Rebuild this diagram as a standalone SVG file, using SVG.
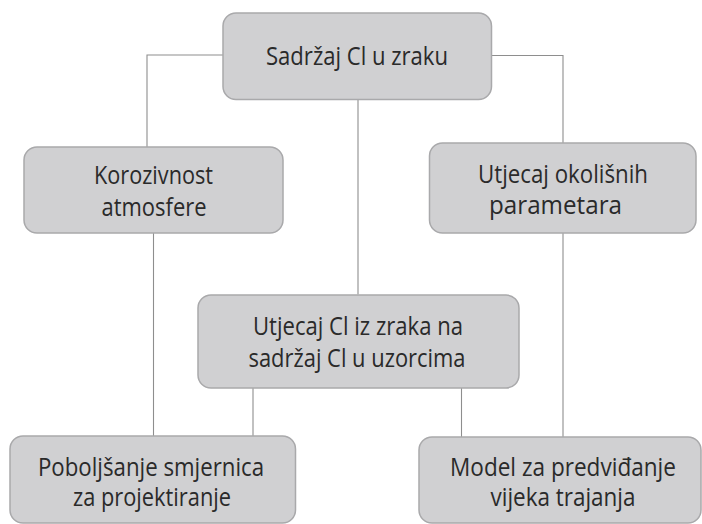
<svg xmlns="http://www.w3.org/2000/svg" width="702" height="524" viewBox="0 0 702 524">
<style>
.box{fill:#d0d0d2;stroke:#a9a9ab;stroke-width:1.5}
.t{font-family:"Open Sans","Liberation Sans",sans-serif;font-size:25px;fill:#2a2a2a;text-anchor:middle}
.c{fill:none;stroke:#8e8e8e;stroke-width:1.1}
</style>
<rect width="702" height="524" fill="#ffffff"/>
<g id="connectors">
<polyline class="c" points="223,55 147,55 147,147"/>
<polyline class="c" points="491.5,55.5 563,55.5 563,143"/>
<line class="c" x1="358" y1="99" x2="358" y2="294.5"/>
<line class="c" x1="153.5" y1="233" x2="153.5" y2="436"/>
<line class="c" x1="253" y1="388" x2="253" y2="436"/>
<line class="c" x1="461.5" y1="388" x2="461.5" y2="437"/>
<line class="c" x1="563" y1="233" x2="563" y2="437"/>
</g>
<g id="n1">
<rect class="box" x="223" y="13" width="268.5" height="86.5" rx="13"/>
<text class="t" x="357" y="65" textLength="182" lengthAdjust="spacingAndGlyphs">Sadržaj Cl u zraku</text>
</g>
<g id="n2">
<rect class="box" x="24" y="147" width="259" height="86" rx="13"/>
<text class="t" x="153.5" y="184" textLength="119" lengthAdjust="spacingAndGlyphs">Korozivnost</text>
<text class="t" x="154" y="215.5" textLength="105" lengthAdjust="spacingAndGlyphs">atmosfere</text>
</g>
<g id="n3">
<rect class="box" x="429.5" y="143" width="266.5" height="90" rx="13"/>
<text class="t" x="563" y="183" textLength="170" lengthAdjust="spacingAndGlyphs">Utjecaj okolišnih</text>
<text class="t" x="555.5" y="213.5" textLength="133" lengthAdjust="spacingAndGlyphs">parametara</text>
</g>
<g id="n4">
<rect class="box" x="198" y="295" width="321" height="93" rx="13"/>
<text class="t" x="358" y="335" textLength="210" lengthAdjust="spacingAndGlyphs">Utjecaj Cl iz zraka na</text>
<text class="t" x="357" y="367" textLength="217" lengthAdjust="spacingAndGlyphs">sadržaj Cl u uzorcima</text>
</g>
<g id="n5">
<rect class="box" x="10" y="436" width="285.5" height="87" rx="13"/>
<text class="t" x="151" y="475.5" textLength="226" lengthAdjust="spacingAndGlyphs">Poboljšanje smjernica</text>
<text class="t" x="152" y="505.5" textLength="158" lengthAdjust="spacingAndGlyphs">za projektiranje</text>
</g>
<g id="n6">
<rect class="box" x="419" y="437" width="282" height="86" rx="13"/>
<text class="t" x="563" y="475.5" textLength="226" lengthAdjust="spacingAndGlyphs">Model za predviđanje</text>
<text class="t" x="563" y="505.5" textLength="145" lengthAdjust="spacingAndGlyphs">vijeka trajanja</text>
</g>
</svg>
